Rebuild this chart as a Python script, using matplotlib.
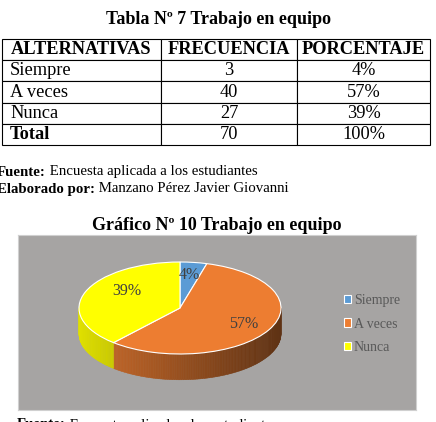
import numpy as np
import matplotlib.pyplot as plt
from matplotlib.collections import PolyCollection
import matplotlib.colors as mcolors

# Datos de la tabla / grafico
alternativas = ['Siempre', 'A veces', 'Nunca']
frecuencia = [3, 40, 27]
porcentaje = ['4%', '57%', '39%']
total_frec = 70
total_pct = '100%'
encabezados = ['ALTERNATIVAS', 'FRECUENCIA', 'PORCENTAJE']
colores = ['#5b9bd5', '#ed7d31', '#ffff00']

plt.rcParams['font.family'] = ['Liberation Serif', 'DejaVu Serif']

W, H = 436, 422
fig = plt.figure(figsize=(W / 100, H / 100), dpi=100)
ax = fig.add_axes([0, 0, 1, 1])
ax.set_xlim(0, W)
ax.set_ylim(H, 0)
ax.axis('off')

# Titulo tabla
ax.text(218, 20, 'Tabla Nº 7 Trabajo en equipo', ha='center', va='center',
        fontsize=13, fontweight='bold')

# Tabla
filas = [[a, str(f), p] for a, f, p in zip(alternativas, frecuencia, porcentaje)]
filas.append(['Total', str(total_frec), total_pct])
tabla = ax.table(cellText=filas, colLabels=encabezados, colWidths=[159, 136, 133],
                 cellLoc='center', bbox=[2 / W, (H - 145) / H, 428 / W, 106 / H])
tabla.auto_set_font_size(False)
for (r, c), cell in tabla.get_celld().items():
    cell.set_linewidth(0.8)
    cell.get_text().set_fontsize(13.2)
    if r == 0 or (r == len(filas) and c == 0):
        cell.get_text().set_fontweight('bold')
    if r > 0 and c == 0:
        cell._loc = 'left'
        cell.PAD = 0.05
        cell.get_text().set_horizontalalignment('left')


def linea(x, y, negrita, normal, size=10.7):
    t = ax.text(x, y, negrita, fontweight='bold', fontsize=size, va='center')
    ax.annotate(' ' + normal, xy=(1, 0), xycoords=t, va='bottom', ha='left', fontsize=size)


linea(-3, 172, 'Fuente:', 'Encuesta aplicada a los estudiantes')
linea(-3, 189, 'Elaborado por:', 'Manzano Pérez Javier Giovanni')

# Titulo grafico
ax.text(217, 225, 'Gráfico Nº 10 Trabajo en equipo', ha='center', va='center',
        fontsize=13, fontweight='bold')

# Area del grafico
box = fig.add_axes([18 / W, (H - 410) / H, 398 / W, 175 / H])
box.set_facecolor('#a6a4a3')
box.set_xticks([])
box.set_yticks([])
for s in box.spines.values():
    s.set_color('#d0d0d0')
    s.set_linewidth(0.8)

# Pie "3D"
rx, ry, cx, cy = 101, 46, 180, 308
xl, yl_top, yl_bot = 1.2, 1.2, 1.8
pax = fig.add_axes([(cx - xl * rx) / W, (H - (cy + yl_bot * ry)) / H,
                    2 * xl * rx / W, (yl_top + yl_bot) * ry / H])
pax.patch.set_alpha(0)
wedges, textos, autotextos = pax.pie(frecuencia, colors=colores, startangle=90,
                                     counterclock=False, autopct='%.0f%%',
                                     pctdistance=0.72,
                                     wedgeprops=dict(edgecolor='white', linewidth=0.8, zorder=2),
                                     textprops=dict(color='#404040', fontsize=11.5))
pax.set_aspect('auto')
pax.set_xlim(-xl, xl)
pax.set_ylim(-yl_bot, yl_top)
pax.axis('off')
for t in autotextos:
    t.set_zorder(3)
# etiqueta 39% algo mas hacia el centro, como en el original
x39, y39 = autotextos[2].get_position()
autotextos[2].set_position((x39 * 0.78, y39 * 1.45))

prof = 0.56
polys, cols = [], []
for w, col in zip(wedges, colores):
    base = np.array(mcolors.to_rgb(col))
    for k in (-1, 0, 1):
        a = max(w.theta1, -180 + 360 * k)
        b = min(w.theta2, 360 * k)
        if b <= a:
            continue
        ang = np.linspace(a, b, max(int(b - a), 2) + 1)
        for t1, t2 in zip(ang[:-1], ang[1:]):
            r1, r2 = np.radians(t1), np.radians(t2)
            polys.append([(np.cos(r1), np.sin(r1)), (np.cos(r2), np.sin(r2)),
                          (np.cos(r2), np.sin(r2) - prof), (np.cos(r1), np.sin(r1) - prof)])
            f = 0.88 - 0.48 * (np.cos((r1 + r2) / 2) + 1) / 2
            cols.append(np.clip(base * f, 0, 1))
pc = PolyCollection(polys, facecolors=cols, edgecolors=cols, linewidths=0.4, zorder=1)
pax.add_collection(pc)

# Leyenda
leg = box.legend(wedges, alternativas, loc='center left', bbox_to_anchor=(331, 324),
                 bbox_transform=ax.transData, frameon=False, fontsize=10,
                 handlelength=0.55, handleheight=0.55, handletextpad=0.2,
                 labelspacing=0.75)
for t in leg.get_texts():
    t.set_color('#595959')

# Fuente del grafico (cortada abajo)
t = ax.text(17, 425, 'Fuente:', fontweight='bold', fontsize=10.7, va='center')
ax.annotate(' Encuesta aplicada a los estudiantes', xy=(1, 0), xycoords=t,
            va='bottom', ha='left', fontsize=10.7)

fig.savefig('out.png', dpi=100)
